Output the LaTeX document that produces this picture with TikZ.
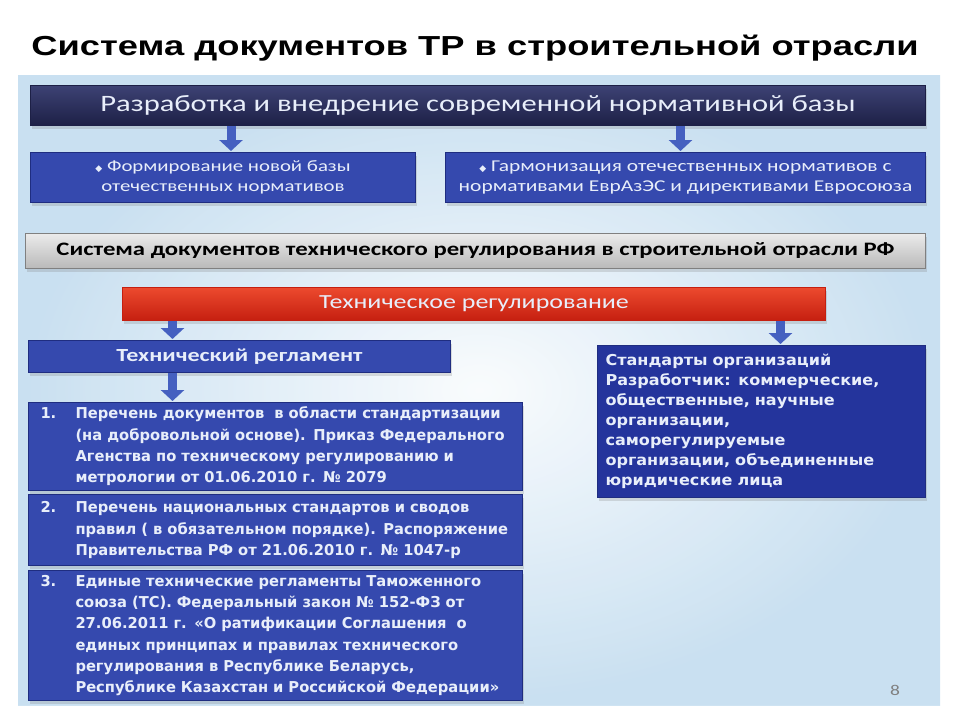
\documentclass[tikz,border=0pt]{standalone}
\usepackage{fontspec}
\setmainfont{Liberation Sans}
\newfontfamily\titlefont[FakeStretch=1.32]{Liberation Sans}
\newfontfamily\calfont[FakeStretch=1.3]{Carlito}
\newfontfamily\listfont[FakeStretch=0.98]{DejaVu Sans}
\newfontfamily\orgfont[FakeStretch=1.07]{DejaVu Sans}
\newfontfamily\tahfont{DejaVu Sans}
\usetikzlibrary{arrows.meta,shadows}

\definecolor{bgblue}{HTML}{C9E0F1}
\definecolor{navytop}{HTML}{3D4274}
\definecolor{navybot}{HTML}{1D2046}
\definecolor{boxblue}{HTML}{3549AE}
\definecolor{blueline}{HTML}{1F2D80}
\definecolor{darkblue}{HTML}{24349C}
\definecolor{redtop}{HTML}{EC4A2E}
\definecolor{redbot}{HTML}{C51F10}
\definecolor{graytop}{HTML}{EBEBEB}
\definecolor{graybot}{HTML}{B9B9B9}
\definecolor{boxtext}{HTML}{E8EEFA}
\definecolor{arrowblue}{HTML}{4560C0}

\tikzset{
  box/.style={anchor=north west, inner sep=0pt, line width=1pt,
    drop shadow={opacity=0.25, shadow xshift=1pt, shadow yshift=-3pt}},
  navybox/.style={box, draw=navybot, top color=navytop, bottom color=navybot, text=boxtext},
  bluebox/.style={box, draw=blueline, fill=boxblue, text=boxtext},
  darkbox/.style={box, draw=blueline, fill=darkblue, text=boxtext},
  redbox/.style={box, draw=redbot, top color=redtop, bottom color=redbot, text=boxtext},
  graybox/.style={box, draw=gray, top color=graytop, bottom color=graybot, text=black},
  listbox/.style={bluebox, align=left, text width=484pt, inner xsep=5pt,
    font=\listfont\bfseries\fontsize{15}{21.3}\selectfont},
  blockarrow/.style={draw=arrowblue, line width=9pt, shorten >=1pt,
    -{Triangle[width=23pt,length=11pt]}},
}

\newcommand{\num}[1]{\makebox[42pt][l]{\hspace*{7pt}#1}}
\newcommand{\hang}{\hspace*{42pt}}

\begin{document}
\begin{tikzpicture}[x=1pt,y=-1pt]
\useasboundingbox (0,0) rectangle (960,720);
\fill[white] (0,0) rectangle (960,720);

% title
\node[font=\titlefont\bfseries\fontsize{27.5}{32}\selectfont] (title) at (475,48)
  {Система документов ТР в строительной отрасли};

% background panel
\fill[bgblue] (18,75) rectangle (940,705);
\shade[inner color=white, outer color=bgblue, opacity=0.9] (18,75) rectangle (940,705);

% upper part
\node[navybox, minimum width=895pt, minimum height=40pt,
  font=\calfont\fontsize{23.5}{26}\selectfont] (base) at (30,85)
  {Разработка и внедрение современной нормативной базы};
\node[bluebox, minimum width=385pt, minimum height=50pt, align=center,
  font=\calfont\fontsize{16}{20}\selectfont] (newbase) at (30,152)
  {{\tahfont\fontsize{9}{9}\selectfont ◆}\ Формирование новой базы\\отечественных нормативов};
\node[bluebox, minimum width=480pt, minimum height=50pt, align=center,
  font=\calfont\fontsize{16.5}{20}\selectfont] (harmon) at (445,152)
  {{\tahfont\fontsize{9}{9}\selectfont ◆}\ Гармонизация отечественных нормативов с\\нормативами ЕврАзЭС и директивами Евросоюза};

\draw[blockarrow] ([xshift=8pt]newbase.north |- base.south) -- ([xshift=8pt]newbase.north);
\draw[blockarrow] ([xshift=-5pt]harmon.north |- base.south) -- ([xshift=-5pt]harmon.north);

% system of documents
\node[graybox, minimum width=900pt, minimum height=35pt,
  font=\calfont\bfseries\fontsize{19}{22}\selectfont] (system) at (25,233)
  {Система документов технического регулирования в строительной отрасли РФ};

\node[redbox, minimum width=703pt, minimum height=33pt,
  font=\calfont\fontsize{20}{22}\selectfont] (techreg) at (122,287)
  {Техническое регулирование};

\node[bluebox, minimum width=422pt, minimum height=32pt,
  font=\calfont\bfseries\fontsize{18.5}{22}\selectfont] (reglament) at (28,340)
  {Технический регламент};

\node[darkbox, minimum width=328pt, minimum height=152pt, align=left,
  text width=312pt, inner xsep=8pt,
  font=\orgfont\bfseries\fontsize{15}{20}\selectfont] (orgstd) at (597,345)
  {Стандарты организаций\\
   Разработчик: коммерческие,\\
   общественные, научные\\
   организации,\\
   саморегулируемые\\
   организации, объединенные\\
   юридические лица};

\draw[blockarrow] ([xshift=-67pt]reglament.north |- techreg.south) -- ([xshift=-67pt]reglament.north);
\draw[blockarrow] ([xshift=19pt]orgstd.north |- techreg.south) -- ([xshift=19pt]orgstd.north);

% numbered lists
\node[listbox, minimum width=494pt, minimum height=88pt] (list1) at (28,402)
  {\num{1.}Перечень документов\ \ в области стандартизации\\
   \hang(на добровольной основе). Приказ Федерального\\
   \hang Агенства по техническому регулированию и\\
   \hang метрологии от 01.06.2010 г. № 2079};

\node[listbox, minimum width=494pt, minimum height=71pt] (list2) at (28,494)
  {\num{2.}Перечень национальных стандартов и сводов\\
   \hang правил ( в обязательном порядке). Распоряжение\\
   \hang Правительства РФ от 21.06.2010 г. № 1047-р};

\node[listbox, minimum width=494pt, minimum height=130pt] (list3) at (28,570)
  {\num{3.}Единые технические регламенты Таможенного\\
   \hang союза (ТС). Федеральный закон № 152-ФЗ от\\
   \hang 27.06.2011 г. «О ратификации Соглашения\ \ о\\
   \hang единых принципах и правилах технического\\
   \hang регулирования в Республике Беларусь,\\
   \hang Республике Казахстан и Российской Федерации»};

\draw[blockarrow] ([xshift=-67pt]reglament.south) -- ([xshift=-67pt]reglament.south |- list1.north);

% page number
\node[text=gray, font=\calfont\fontsize{15}{15}\selectfont] (page) at (895,690) {8};
\end{tikzpicture}
\end{document}
